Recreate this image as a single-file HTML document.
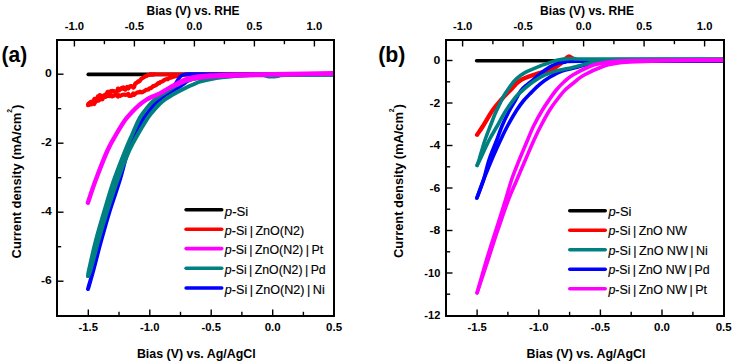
<!DOCTYPE html>
<html><head><meta charset="utf-8"><style>
html,body{margin:0;padding:0;background:#fff;width:734px;height:362px;overflow:hidden}
svg{display:block}
text{font-family:"Liberation Sans", sans-serif;fill:#000}
</style></head><body>
<svg width="734" height="362" viewBox="0 0 734 362">
<defs>
<clipPath id="ca"><rect x="58" y="41" width="275" height="274"/></clipPath>
<clipPath id="cb"><rect x="447" y="41" width="276" height="274"/></clipPath>
</defs>
<path d="M88.2,74.4 C129.0,74.4 292.2,74.4 333.0,74.4" fill="none" stroke="#000000" stroke-width="3.6" stroke-linecap="round" stroke-linejoin="round" clip-path="url(#ca)"/>
<path d="M150.0,74.4 C180.5,74.4 302.5,74.4 333.0,74.4" fill="none" stroke="#ff0000" stroke-width="3.6" stroke-linecap="round" stroke-linejoin="round" clip-path="url(#ca)"/>
<path d="M87.9,105.2 L88.5,104.9 L89.5,102.8 L89.8,104.2 L90.9,101.7 L92.6,101.5 L93.5,100.6 L94.5,98.8 L95.7,100.0 L96.6,99.1 L97.8,96.5 L99.0,97.4 L99.8,95.2 L101.5,95.8 L102.5,96.3 L103.8,95.8 L104.7,94.9 L106.0,94.7 L107.5,91.9 L108.1,91.7 L110.0,91.9 L110.9,91.1 L112.1,90.9 L113.1,91.0 L114.5,91.5 L115.8,91.3 L117.1,91.1 L118.0,88.5 L119.1,90.5 L120.6,89.1 L121.7,87.9 L123.0,88.8 L123.6,87.3 L125.2,89.7 L125.7,89.0 L127.1,87.0 L128.3,88.5 L130.0,86.2 L131.0,86.0 L132.2,86.5 L133.3,87.7 L134.2,86.9 L135.1,83.8 L136.2,82.8 L136.8,82.8 L138.1,81.3 L138.7,81.7 L139.9,80.9 L141.1,79.0 L141.9,78.5 L143.0,77.8 L144.0,77.2 L145.4,76.3 L146.5,76.0 L147.9,75.0 L149.3,75.0 L150.6,74.3 L151.9,74.7 L153.0,74.6 L154.0,74.4" fill="none" stroke="#ff0000" stroke-width="4.1" stroke-linecap="round" stroke-linejoin="round" clip-path="url(#ca)"/>
<path d="M88.2,103.9 L89.0,104.7 L90.0,104.0 L91.3,104.5 L92.1,102.1 L94.2,104.0 L95.4,101.9 L96.7,101.0 L97.5,100.5 L98.7,100.7 L99.8,99.5 L101.4,98.0 L102.4,99.4 L103.4,97.4 L105.1,96.9 L105.8,97.0 L107.4,95.7 L108.4,96.0 L110.1,96.1 L111.5,95.2 L112.4,96.4 L114.1,95.7 L114.9,94.8 L116.4,94.9 L117.9,96.6 L118.5,95.0 L120.5,95.9 L122.0,94.9 L122.8,94.7 L124.7,94.5 L125.5,94.9 L126.8,94.8 L128.4,93.9 L129.0,96.0 L130.9,95.9 L131.7,95.6 L133.2,93.5 L134.2,94.8 L135.3,93.8 L136.3,93.1 L137.4,92.3 L138.9,92.4 L140.2,91.6 L141.4,92.4 L142.6,92.3 L143.8,91.3 L144.6,91.1 L145.9,89.9 L147.3,89.7 L148.4,89.5 L149.6,88.2 L150.7,88.1 L152.0,87.4 L153.1,86.1 L154.3,86.0 L155.4,85.3 L156.8,84.6 L158.1,83.1 L159.2,83.3 L160.3,82.1 L161.6,81.8 L162.9,81.1 L164.2,80.0 L165.2,79.6 L166.4,79.0 L167.8,79.3 L168.7,78.4 L169.8,77.8 L171.0,77.7 L172.2,77.1 L173.3,76.7 L174.4,76.6 L175.8,76.2 L176.7,75.7 L178.0,75.8 L179.4,75.2 L180.6,75.2 L181.8,74.7 L183.1,74.9 L184.5,74.8 L185.9,74.2 L187.1,74.6 L188.0,74.4" fill="none" stroke="#ff0000" stroke-width="4.1" stroke-linecap="round" stroke-linejoin="round" clip-path="url(#ca)"/>
<path d="M156.0,105.0 C157.3,103.3 161.7,97.6 164.0,95.0 C166.3,92.4 168.2,91.2 170.0,89.5 C171.8,87.8 173.3,86.4 174.5,85.0 C175.7,83.6 176.4,82.2 177.2,81.0 C178.0,79.8 178.6,78.5 179.5,77.5 C180.4,76.5 181.1,75.8 182.5,75.2 C183.9,74.6 185.1,74.3 188.0,74.1 C190.9,73.9 191.3,74.0 200.0,74.0 C208.7,74.0 217.8,74.2 240.0,74.3 C262.2,74.3 317.5,74.3 333.0,74.3" fill="none" stroke="#0000ff" stroke-width="3.6" stroke-linecap="round" stroke-linejoin="round" clip-path="url(#ca)"/>
<path d="M88.0,289.0 C88.9,285.8 91.2,278.2 93.4,270.0 C95.6,261.8 98.5,250.0 101.3,240.0 C104.1,230.0 106.9,220.0 110.0,210.0 C113.1,200.0 116.8,190.0 119.8,180.0 C122.8,170.0 125.6,157.5 128.1,150.0 C130.6,142.5 132.6,140.0 135.0,135.0 C137.4,130.0 140.3,123.8 142.5,120.0 C144.7,116.2 146.1,115.0 148.0,112.5 C149.9,110.0 152.1,107.1 153.9,105.0 C155.7,102.9 157.2,101.7 159.0,100.0 C160.8,98.3 162.9,96.5 165.0,95.0 C167.1,93.5 169.3,92.6 171.5,91.3 C173.7,90.0 176.5,88.6 178.4,87.4 C180.3,86.2 181.4,85.3 183.0,84.2 C184.6,83.1 186.0,81.8 188.0,80.8 C190.0,79.8 192.2,79.1 195.0,78.4 C197.8,77.7 200.8,77.2 205.0,76.8 C209.2,76.4 214.2,76.1 220.0,75.8 C225.8,75.5 230.0,75.4 240.0,75.2 C250.0,75.0 264.5,74.6 280.0,74.4 C295.5,74.2 324.2,74.2 333.0,74.2" fill="none" stroke="#0000ff" stroke-width="4.0" stroke-linecap="round" stroke-linejoin="round" clip-path="url(#ca)"/>
<path d="M88.0,276.0 C88.2,275.0 87.7,276.0 89.0,270.0 C90.3,264.0 93.4,250.0 96.0,240.0 C98.6,230.0 101.6,220.0 104.6,210.0 C107.6,200.0 110.5,190.0 114.0,180.0 C117.5,170.0 122.5,157.5 125.5,150.0 C128.5,142.5 129.8,140.0 132.0,135.0 C134.2,130.0 136.8,123.8 138.7,120.0 C140.6,116.2 141.7,115.0 143.5,112.5 C145.3,110.0 147.5,107.2 149.4,105.0 C151.3,102.8 153.1,101.1 155.0,99.5 C156.9,97.9 159.2,96.5 161.0,95.2 C162.8,94.0 164.4,93.0 166.0,92.0 C167.6,91.0 168.8,90.2 170.5,89.1 C172.2,88.0 173.9,86.8 176.0,85.6 C178.1,84.4 180.7,83.0 183.0,82.0 C185.3,81.0 187.2,80.3 190.0,79.6 C192.8,78.9 196.3,78.2 200.0,77.7 C203.7,77.2 207.0,76.9 212.0,76.5 C217.0,76.1 223.7,75.7 230.0,75.4 C236.3,75.1 232.8,75.1 250.0,74.9 C267.2,74.7 319.2,74.5 333.0,74.4" fill="none" stroke="#008080" stroke-width="4.0" stroke-linecap="round" stroke-linejoin="round" clip-path="url(#ca)"/>
<path d="M88.0,276.0 C88.4,275.0 88.8,276.0 90.5,270.0 C92.2,264.0 95.7,250.0 98.5,240.0 C101.3,230.0 104.3,220.0 107.5,210.0 C110.7,200.0 113.8,190.0 117.5,180.0 C121.2,170.0 126.2,157.5 129.5,150.0 C132.8,142.5 134.7,140.0 137.5,135.0 C140.3,130.0 144.1,123.8 146.5,120.0 C148.9,116.2 150.0,115.0 152.0,112.5 C154.0,110.0 156.4,107.2 158.6,105.0 C160.8,102.8 162.8,101.2 165.0,99.5 C167.2,97.8 169.5,96.5 172.0,95.0 C174.5,93.5 177.5,92.1 180.0,90.8 C182.5,89.5 184.7,88.3 187.0,87.2 C189.3,86.1 191.8,85.1 194.0,84.2 C196.2,83.3 197.3,82.5 200.0,81.7 C202.7,80.9 206.3,79.9 210.0,79.2 C213.7,78.5 217.8,77.8 222.0,77.3 C226.2,76.8 230.3,76.4 235.0,76.0 C239.7,75.6 245.3,75.2 250.0,75.1 C254.7,75.0 259.7,75.0 263.0,75.3 C266.3,75.5 267.5,76.5 270.0,76.6 C272.5,76.7 275.5,76.4 278.0,76.1 C280.5,75.8 275.8,75.3 285.0,75.0 C294.2,74.7 325.0,74.5 333.0,74.4" fill="none" stroke="#008080" stroke-width="4.0" stroke-linecap="round" stroke-linejoin="round" clip-path="url(#ca)"/>
<path d="M87.9,202.7 C89.2,198.9 92.4,188.8 95.7,180.0 C99.0,171.2 104.4,157.5 107.7,150.0 C111.0,142.5 112.9,140.0 115.8,135.0 C118.7,130.0 122.4,123.8 125.1,120.0 C127.8,116.2 129.7,114.5 132.0,112.0 C134.3,109.5 136.5,107.3 138.8,105.3 C141.1,103.3 143.8,101.4 146.0,100.0 C148.2,98.6 150.2,97.7 152.0,96.8 C153.8,95.9 155.2,95.7 157.0,94.8 C158.8,93.9 161.0,92.7 163.0,91.6 C165.0,90.5 167.1,89.2 169.0,88.1 C170.9,87.0 172.7,86.0 174.5,85.0 C176.3,84.0 177.8,83.0 180.0,82.0 C182.2,81.0 185.0,79.6 188.0,78.7 C191.0,77.8 194.3,77.0 198.0,76.5 C201.7,76.0 205.5,75.8 210.0,75.5 C214.5,75.2 219.2,75.2 225.0,75.0 C230.8,74.8 234.2,74.8 245.0,74.6 C255.8,74.4 275.3,74.2 290.0,74.0 C304.7,73.8 325.8,73.3 333.0,73.2" fill="none" stroke="#ff00ff" stroke-width="4.4" stroke-linecap="round" stroke-linejoin="round" clip-path="url(#ca)"/>
<path d="M171.8,86.8 C173.2,86.2 177.3,84.6 180.0,83.5 C182.7,82.4 185.0,81.3 188.0,80.4 C191.0,79.5 194.3,78.9 198.0,78.3 C201.7,77.7 205.5,77.3 210.0,77.0 C214.5,76.7 219.2,76.4 225.0,76.2 C230.8,76.0 234.2,76.0 245.0,75.7 C255.8,75.5 275.3,75.0 290.0,74.7 C304.7,74.4 325.8,74.0 333.0,73.9" fill="none" stroke="#ff00ff" stroke-width="3.6" stroke-linecap="round" stroke-linejoin="round" clip-path="url(#ca)"/>
<path d="M476.6,60.8 C517.7,60.8 681.9,60.8 723.0,60.8" fill="none" stroke="#000000" stroke-width="3.6" stroke-linecap="round" stroke-linejoin="round" clip-path="url(#cb)"/>
<path d="M477.1,134.8 C478.1,133.3 480.4,130.1 483.0,126.0 C485.6,121.9 489.8,114.3 492.8,110.0 C495.8,105.7 498.1,103.3 501.0,100.0 C503.9,96.7 507.3,93.2 510.5,90.0 C513.7,86.8 515.9,83.2 520.0,80.6 C524.1,78.0 531.2,75.8 535.0,74.4 C538.8,73.0 540.5,72.8 543.0,72.0 C545.5,71.2 547.8,70.7 550.0,69.8 C552.2,68.9 554.2,67.9 556.0,66.8 C557.8,65.7 559.6,64.6 561.0,63.4 C562.4,62.2 563.2,61.0 564.5,59.8 C565.8,58.6 567.5,56.5 568.8,56.3 C570.1,56.0 571.1,57.7 572.5,58.3 C573.9,58.9 574.1,59.6 577.0,60.0 C579.9,60.4 565.7,60.4 590.0,60.4 C614.3,60.4 700.8,60.3 723.0,60.3" fill="none" stroke="#ff0000" stroke-width="4.3" stroke-linecap="round" stroke-linejoin="round" clip-path="url(#cb)"/>
<path d="M476.9,198.0 C478.0,195.0 481.1,186.3 483.5,180.0 C485.9,173.7 488.8,166.7 491.6,160.0 C494.5,153.3 498.0,145.7 500.6,140.0 C503.2,134.3 504.8,131.0 507.5,126.0 C510.2,121.0 514.1,114.2 516.8,110.0 C519.5,105.8 521.5,103.2 523.7,100.5 C525.9,97.8 527.3,96.5 530.0,93.8 C532.7,91.1 536.7,87.0 540.0,84.2 C543.3,81.4 546.3,79.2 550.0,77.0 C553.7,74.8 557.8,72.5 562.0,71.0 C566.2,69.5 570.3,69.0 575.0,67.8 C579.7,66.6 584.2,64.9 590.0,63.8 C595.8,62.7 587.8,61.8 610.0,61.3 C632.2,60.8 704.2,60.6 723.0,60.5" fill="none" stroke="#0000ff" stroke-width="3.6" stroke-linecap="round" stroke-linejoin="round" clip-path="url(#cb)"/>
<path d="M476.9,198.0 C478.0,195.0 481.5,186.3 483.5,180.0 C485.5,173.7 486.8,166.7 489.0,160.0 C491.2,153.3 494.6,145.7 496.8,140.0 C499.0,134.3 499.9,131.0 502.0,126.0 C504.1,121.0 507.4,114.3 509.7,110.0 C511.9,105.7 513.7,103.2 515.5,100.0 C517.3,96.8 518.9,93.4 520.6,91.0 C522.4,88.6 524.4,86.9 526.0,85.5 C527.6,84.1 527.7,84.3 530.0,82.4 C532.3,80.5 536.7,76.5 540.0,73.9 C543.3,71.3 547.2,68.6 550.0,66.9 C552.8,65.2 554.5,64.4 557.0,63.6 C559.5,62.8 561.2,62.5 565.0,62.1 C568.8,61.7 553.7,61.5 580.0,61.3 C606.3,61.1 699.2,60.9 723.0,60.8" fill="none" stroke="#0000ff" stroke-width="3.6" stroke-linecap="round" stroke-linejoin="round" clip-path="url(#cb)"/>
<path d="M477.1,165.4 C477.4,164.5 477.7,164.2 479.0,160.0 C480.3,155.8 483.1,145.7 485.0,140.0 C486.9,134.3 488.6,130.3 490.3,126.0 C492.0,121.7 493.4,117.8 495.0,114.0 C496.6,110.2 498.5,106.6 500.0,103.5 C501.5,100.4 502.6,97.9 504.0,95.5 C505.4,93.1 506.9,91.0 508.3,89.0 C509.7,87.0 511.1,84.9 512.5,83.2 C513.9,81.5 514.5,80.4 516.6,78.6 C518.7,76.8 522.1,74.2 524.9,72.6 C527.7,71.0 530.4,70.1 533.2,68.9 C536.0,67.7 538.7,66.5 541.5,65.5 C544.3,64.5 547.0,63.5 549.8,62.6 C552.5,61.7 555.2,60.7 558.0,60.1 C560.8,59.5 563.5,59.1 566.3,58.9 C569.1,58.7 571.0,58.8 575.0,58.8 C579.0,58.8 565.3,59.1 590.0,59.1 C614.7,59.1 700.8,59.0 723.0,59.0" fill="none" stroke="#008080" stroke-width="3.6" stroke-linecap="round" stroke-linejoin="round" clip-path="url(#cb)"/>
<path d="M477.1,165.4 C477.6,164.5 477.8,164.2 479.8,160.0 C481.8,155.8 486.3,145.7 489.2,140.0 C492.1,134.3 494.9,130.1 497.2,126.0 C499.5,121.9 501.1,118.7 503.0,115.5 C504.9,112.3 506.0,110.2 508.3,107.0 C510.6,103.8 513.8,99.1 516.6,96.0 C519.4,92.9 522.1,90.8 524.9,88.4 C527.7,86.0 530.4,83.8 533.2,81.8 C536.0,79.8 538.7,78.0 541.5,76.6 C544.3,75.1 547.0,74.1 549.8,73.1 C552.5,72.1 555.2,71.2 558.0,70.5 C560.8,69.8 563.5,69.4 566.3,68.8 C569.1,68.2 571.8,67.8 574.6,67.1 C577.4,66.4 580.1,65.6 582.9,64.8 C585.7,64.0 587.5,63.1 591.2,62.4 C594.9,61.7 600.2,61.0 605.0,60.5 C609.8,60.0 600.3,59.8 620.0,59.6 C639.7,59.4 705.8,59.3 723.0,59.2" fill="none" stroke="#008080" stroke-width="3.6" stroke-linecap="round" stroke-linejoin="round" clip-path="url(#cb)"/>
<path d="M477.1,292.8 C478.7,287.3 483.4,270.5 486.5,260.0 C489.6,249.5 492.8,240.0 496.0,230.0 C499.2,220.0 502.9,208.3 505.5,200.0 C508.1,191.7 509.2,186.7 511.5,180.0 C513.8,173.3 516.5,166.7 519.2,160.0 C521.9,153.3 525.2,145.7 527.6,140.0 C530.0,134.3 531.1,131.0 533.6,126.0 C536.1,121.0 539.8,114.3 542.4,110.0 C545.0,105.7 546.7,103.3 549.0,100.0 C551.3,96.7 553.8,93.0 556.3,90.0 C558.8,87.0 561.1,84.5 563.9,82.0 C566.6,79.5 568.3,77.7 572.8,75.0 C577.3,72.3 586.2,67.9 590.7,66.0 C595.2,64.1 596.5,64.2 600.0,63.5 C603.5,62.8 607.0,62.1 612.0,61.6 C617.0,61.1 611.5,60.8 630.0,60.5 C648.5,60.2 707.5,59.8 723.0,59.6" fill="none" stroke="#ff00ff" stroke-width="3.6" stroke-linecap="round" stroke-linejoin="round" clip-path="url(#cb)"/>
<path d="M477.1,292.8 C478.9,287.3 484.6,270.5 488.0,260.0 C491.4,249.5 494.4,240.0 497.8,230.0 C501.2,220.0 505.1,208.3 508.3,200.0 C511.5,191.7 514.0,186.7 516.8,180.0 C519.6,173.3 522.4,166.7 525.3,160.0 C528.2,153.3 531.4,145.7 534.0,140.0 C536.6,134.3 538.2,131.0 540.8,126.0 C543.4,121.0 547.0,114.3 549.7,110.0 C552.4,105.7 554.2,103.3 556.8,100.0 C559.4,96.7 562.1,93.0 565.1,90.0 C568.1,87.0 571.5,84.5 574.7,82.0 C577.9,79.5 579.3,77.7 584.2,75.0 C589.1,72.3 598.9,67.9 604.0,66.0 C609.1,64.1 610.7,64.2 615.0,63.5 C619.3,62.8 622.5,62.4 630.0,62.0 C637.5,61.6 644.5,61.3 660.0,61.0 C675.5,60.7 712.5,60.3 723.0,60.2" fill="none" stroke="#ff00ff" stroke-width="3.6" stroke-linecap="round" stroke-linejoin="round" clip-path="url(#cb)"/>
<rect x="57.0" y="40.0" width="277.0" height="276.0" fill="none" stroke="#000" stroke-width="2"/>
<line x1="88.3" y1="309.5" x2="88.3" y2="315.0" stroke="#000" stroke-width="1.4"/>
<line x1="149.8" y1="309.5" x2="149.8" y2="315.0" stroke="#000" stroke-width="1.4"/>
<line x1="211.2" y1="309.5" x2="211.2" y2="315.0" stroke="#000" stroke-width="1.4"/>
<line x1="272.7" y1="309.5" x2="272.7" y2="315.0" stroke="#000" stroke-width="1.4"/>
<line x1="119.0" y1="311.8" x2="119.0" y2="315.0" stroke="#000" stroke-width="1.4"/>
<line x1="180.5" y1="311.8" x2="180.5" y2="315.0" stroke="#000" stroke-width="1.4"/>
<line x1="241.9" y1="311.8" x2="241.9" y2="315.0" stroke="#000" stroke-width="1.4"/>
<line x1="303.4" y1="311.8" x2="303.4" y2="315.0" stroke="#000" stroke-width="1.4"/>
<text x="88.3" y="330.6" font-size="10.20" font-weight="bold" text-anchor="middle" textLength="19.4" lengthAdjust="spacingAndGlyphs" >-1.5</text>
<text x="149.8" y="330.6" font-size="10.20" font-weight="bold" text-anchor="middle" textLength="19.4" lengthAdjust="spacingAndGlyphs" >-1.0</text>
<text x="211.2" y="330.6" font-size="10.20" font-weight="bold" text-anchor="middle" textLength="19.4" lengthAdjust="spacingAndGlyphs" >-0.5</text>
<text x="272.7" y="330.6" font-size="10.20" font-weight="bold" text-anchor="middle" textLength="16.0" lengthAdjust="spacingAndGlyphs" >0.0</text>
<text x="334.1" y="330.6" font-size="10.20" font-weight="bold" text-anchor="middle" textLength="16.0" lengthAdjust="spacingAndGlyphs" >0.5</text>
<line x1="74.4" y1="41.0" x2="74.4" y2="46.5" stroke="#000" stroke-width="1.4"/>
<line x1="134.4" y1="41.0" x2="134.4" y2="46.5" stroke="#000" stroke-width="1.4"/>
<line x1="194.4" y1="41.0" x2="194.4" y2="46.5" stroke="#000" stroke-width="1.4"/>
<line x1="254.4" y1="41.0" x2="254.4" y2="46.5" stroke="#000" stroke-width="1.4"/>
<line x1="314.4" y1="41.0" x2="314.4" y2="46.5" stroke="#000" stroke-width="1.4"/>
<line x1="104.4" y1="41.0" x2="104.4" y2="44.2" stroke="#000" stroke-width="1.4"/>
<line x1="164.4" y1="41.0" x2="164.4" y2="44.2" stroke="#000" stroke-width="1.4"/>
<line x1="224.4" y1="41.0" x2="224.4" y2="44.2" stroke="#000" stroke-width="1.4"/>
<line x1="284.4" y1="41.0" x2="284.4" y2="44.2" stroke="#000" stroke-width="1.4"/>
<text x="74.4" y="29.7" font-size="10.20" font-weight="bold" text-anchor="middle" textLength="19.4" lengthAdjust="spacingAndGlyphs" >-1.0</text>
<text x="134.4" y="29.7" font-size="10.20" font-weight="bold" text-anchor="middle" textLength="19.4" lengthAdjust="spacingAndGlyphs" >-0.5</text>
<text x="194.4" y="29.7" font-size="10.20" font-weight="bold" text-anchor="middle" textLength="15.6" lengthAdjust="spacingAndGlyphs" >0.0</text>
<text x="254.4" y="29.7" font-size="10.20" font-weight="bold" text-anchor="middle" textLength="15.6" lengthAdjust="spacingAndGlyphs" >0.5</text>
<text x="314.4" y="29.7" font-size="10.20" font-weight="bold" text-anchor="middle" textLength="15.6" lengthAdjust="spacingAndGlyphs" >1.0</text>
<line x1="58.0" y1="74.2" x2="63.5" y2="74.2" stroke="#000" stroke-width="1.4"/>
<line x1="58.0" y1="143.2" x2="63.5" y2="143.2" stroke="#000" stroke-width="1.4"/>
<line x1="58.0" y1="212.2" x2="63.5" y2="212.2" stroke="#000" stroke-width="1.4"/>
<line x1="58.0" y1="281.2" x2="63.5" y2="281.2" stroke="#000" stroke-width="1.4"/>
<line x1="58.0" y1="108.7" x2="61.2" y2="108.7" stroke="#000" stroke-width="1.4"/>
<line x1="58.0" y1="177.7" x2="61.2" y2="177.7" stroke="#000" stroke-width="1.4"/>
<line x1="58.0" y1="246.7" x2="61.2" y2="246.7" stroke="#000" stroke-width="1.4"/>
<text x="51.8" y="76.9" font-size="10.20" font-weight="bold" text-anchor="end" textLength="6.8" lengthAdjust="spacingAndGlyphs" >0</text>
<text x="51.8" y="145.9" font-size="10.20" font-weight="bold" text-anchor="end" textLength="10.8" lengthAdjust="spacingAndGlyphs" >-2</text>
<text x="51.8" y="214.9" font-size="10.20" font-weight="bold" text-anchor="end" textLength="10.8" lengthAdjust="spacingAndGlyphs" >-4</text>
<text x="51.8" y="283.9" font-size="10.20" font-weight="bold" text-anchor="end" textLength="10.8" lengthAdjust="spacingAndGlyphs" >-6</text>
<rect x="446.0" y="40.0" width="278.0" height="276.0" fill="none" stroke="#000" stroke-width="2"/>
<line x1="477.1" y1="309.5" x2="477.1" y2="315.0" stroke="#000" stroke-width="1.4"/>
<line x1="538.8" y1="309.5" x2="538.8" y2="315.0" stroke="#000" stroke-width="1.4"/>
<line x1="600.4" y1="309.5" x2="600.4" y2="315.0" stroke="#000" stroke-width="1.4"/>
<line x1="662.0" y1="309.5" x2="662.0" y2="315.0" stroke="#000" stroke-width="1.4"/>
<line x1="507.9" y1="311.8" x2="507.9" y2="315.0" stroke="#000" stroke-width="1.4"/>
<line x1="569.6" y1="311.8" x2="569.6" y2="315.0" stroke="#000" stroke-width="1.4"/>
<line x1="631.2" y1="311.8" x2="631.2" y2="315.0" stroke="#000" stroke-width="1.4"/>
<line x1="692.9" y1="311.8" x2="692.9" y2="315.0" stroke="#000" stroke-width="1.4"/>
<text x="477.1" y="330.6" font-size="10.20" font-weight="bold" text-anchor="middle" textLength="19.4" lengthAdjust="spacingAndGlyphs" >-1.5</text>
<text x="538.8" y="330.6" font-size="10.20" font-weight="bold" text-anchor="middle" textLength="19.4" lengthAdjust="spacingAndGlyphs" >-1.0</text>
<text x="600.4" y="330.6" font-size="10.20" font-weight="bold" text-anchor="middle" textLength="19.4" lengthAdjust="spacingAndGlyphs" >-0.5</text>
<text x="662.0" y="330.6" font-size="10.20" font-weight="bold" text-anchor="middle" textLength="16.0" lengthAdjust="spacingAndGlyphs" >0.0</text>
<text x="723.7" y="330.6" font-size="10.20" font-weight="bold" text-anchor="middle" textLength="16.0" lengthAdjust="spacingAndGlyphs" >0.5</text>
<line x1="462.6" y1="41.0" x2="462.6" y2="46.5" stroke="#000" stroke-width="1.4"/>
<line x1="523.1" y1="41.0" x2="523.1" y2="46.5" stroke="#000" stroke-width="1.4"/>
<line x1="583.6" y1="41.0" x2="583.6" y2="46.5" stroke="#000" stroke-width="1.4"/>
<line x1="644.1" y1="41.0" x2="644.1" y2="46.5" stroke="#000" stroke-width="1.4"/>
<line x1="704.6" y1="41.0" x2="704.6" y2="46.5" stroke="#000" stroke-width="1.4"/>
<line x1="492.9" y1="41.0" x2="492.9" y2="44.2" stroke="#000" stroke-width="1.4"/>
<line x1="553.4" y1="41.0" x2="553.4" y2="44.2" stroke="#000" stroke-width="1.4"/>
<line x1="613.9" y1="41.0" x2="613.9" y2="44.2" stroke="#000" stroke-width="1.4"/>
<line x1="674.4" y1="41.0" x2="674.4" y2="44.2" stroke="#000" stroke-width="1.4"/>
<text x="462.6" y="29.7" font-size="10.20" font-weight="bold" text-anchor="middle" textLength="19.4" lengthAdjust="spacingAndGlyphs" >-1.0</text>
<text x="523.1" y="29.7" font-size="10.20" font-weight="bold" text-anchor="middle" textLength="19.4" lengthAdjust="spacingAndGlyphs" >-0.5</text>
<text x="583.6" y="29.7" font-size="10.20" font-weight="bold" text-anchor="middle" textLength="15.6" lengthAdjust="spacingAndGlyphs" >0.0</text>
<text x="644.1" y="29.7" font-size="10.20" font-weight="bold" text-anchor="middle" textLength="15.6" lengthAdjust="spacingAndGlyphs" >0.5</text>
<text x="704.6" y="29.7" font-size="10.20" font-weight="bold" text-anchor="middle" textLength="15.6" lengthAdjust="spacingAndGlyphs" >1.0</text>
<line x1="447.0" y1="60.5" x2="452.5" y2="60.5" stroke="#000" stroke-width="1.4"/>
<line x1="447.0" y1="103.0" x2="452.5" y2="103.0" stroke="#000" stroke-width="1.4"/>
<line x1="447.0" y1="145.5" x2="452.5" y2="145.5" stroke="#000" stroke-width="1.4"/>
<line x1="447.0" y1="188.0" x2="452.5" y2="188.0" stroke="#000" stroke-width="1.4"/>
<line x1="447.0" y1="230.5" x2="452.5" y2="230.5" stroke="#000" stroke-width="1.4"/>
<line x1="447.0" y1="273.0" x2="452.5" y2="273.0" stroke="#000" stroke-width="1.4"/>
<line x1="447.0" y1="81.8" x2="450.2" y2="81.8" stroke="#000" stroke-width="1.4"/>
<line x1="447.0" y1="124.2" x2="450.2" y2="124.2" stroke="#000" stroke-width="1.4"/>
<line x1="447.0" y1="166.8" x2="450.2" y2="166.8" stroke="#000" stroke-width="1.4"/>
<line x1="447.0" y1="209.2" x2="450.2" y2="209.2" stroke="#000" stroke-width="1.4"/>
<line x1="447.0" y1="251.8" x2="450.2" y2="251.8" stroke="#000" stroke-width="1.4"/>
<line x1="447.0" y1="294.2" x2="450.2" y2="294.2" stroke="#000" stroke-width="1.4"/>
<text x="440.3" y="64.4" font-size="10.20" font-weight="bold" text-anchor="end" textLength="6.8" lengthAdjust="spacingAndGlyphs" >0</text>
<text x="440.3" y="106.9" font-size="10.20" font-weight="bold" text-anchor="end" textLength="10.8" lengthAdjust="spacingAndGlyphs" >-2</text>
<text x="440.3" y="149.4" font-size="10.20" font-weight="bold" text-anchor="end" textLength="10.8" lengthAdjust="spacingAndGlyphs" >-4</text>
<text x="440.3" y="191.9" font-size="10.20" font-weight="bold" text-anchor="end" textLength="10.8" lengthAdjust="spacingAndGlyphs" >-6</text>
<text x="440.3" y="234.4" font-size="10.20" font-weight="bold" text-anchor="end" textLength="10.8" lengthAdjust="spacingAndGlyphs" >-8</text>
<text x="440.3" y="276.9" font-size="10.20" font-weight="bold" text-anchor="end" textLength="16.0" lengthAdjust="spacingAndGlyphs" >-10</text>
<text x="440.3" y="319.4" font-size="10.20" font-weight="bold" text-anchor="end" textLength="16.0" lengthAdjust="spacingAndGlyphs" >-12</text>
<text x="146.6" y="14.9" font-size="13.40" font-weight="bold" text-anchor="start" textLength="92.9" lengthAdjust="spacingAndGlyphs" >Bias (V) vs. RHE</text>
<text x="540.1" y="14.9" font-size="13.40" font-weight="bold" text-anchor="start" textLength="93.9" lengthAdjust="spacingAndGlyphs" >Bias (V) vs. RHE</text>
<text x="136.9" y="357.7" font-size="13.40" font-weight="bold" text-anchor="start" textLength="118.8" lengthAdjust="spacingAndGlyphs" >Bias (V) vs. Ag/AgCl</text>
<text x="526.6" y="357.7" font-size="13.40" font-weight="bold" text-anchor="start" textLength="118.8" lengthAdjust="spacingAndGlyphs" >Bias (V) vs. Ag/AgCl</text>
<g transform="translate(20.8,258.4) rotate(-90)">
<text x="0" y="0" font-size="13.40" font-weight="bold" textLength="153.7" lengthAdjust="spacingAndGlyphs">Current density (mA/cm<tspan dy="-9" font-size="7">2</tspan><tspan dy="9">)</tspan></text>
</g>
<g transform="translate(403.3,258.0) rotate(-90)">
<text x="0" y="0" font-size="13.40" font-weight="bold" textLength="153.9" lengthAdjust="spacingAndGlyphs">Current density (mA/cm<tspan dy="-9" font-size="7">2</tspan><tspan dy="9">)</tspan></text>
</g>
<text x="1.6" y="62.0" font-size="21.50" font-weight="bold" text-anchor="start" textLength="25.6" lengthAdjust="spacingAndGlyphs" >(a)</text>
<text x="378.2" y="62.0" font-size="21.50" font-weight="bold" text-anchor="start" textLength="27.2" lengthAdjust="spacingAndGlyphs" >(b)</text>
<line x1="186.1" y1="209.8" x2="221.7" y2="209.8" stroke="#000000" stroke-width="3.6" stroke-linecap="round"/>
<text x="224.8" y="215.5" font-size="12.2" font-weight="normal" stroke="#000" stroke-width="0.15" textLength="23.5" lengthAdjust="spacingAndGlyphs"><tspan font-style="italic">p</tspan>-Si</text>
<line x1="186.1" y1="229.2" x2="221.7" y2="229.2" stroke="#ff0000" stroke-width="3.6" stroke-linecap="round"/>
<text x="224.8" y="234.9" font-size="12.2" font-weight="normal" stroke="#000" stroke-width="0.15" textLength="79.5" lengthAdjust="spacingAndGlyphs"><tspan font-style="italic">p</tspan>-Si&#8201;|&#8201;ZnO(N2)</text>
<line x1="186.1" y1="248.6" x2="221.7" y2="248.6" stroke="#ff00ff" stroke-width="3.6" stroke-linecap="round"/>
<text x="224.8" y="254.3" font-size="12.2" font-weight="normal" stroke="#000" stroke-width="0.15" textLength="98.3" lengthAdjust="spacingAndGlyphs"><tspan font-style="italic">p</tspan>-Si&#8201;|&#8201;ZnO(N2)&#8201;|&#8201;Pt</text>
<line x1="186.1" y1="268.2" x2="221.7" y2="268.2" stroke="#008080" stroke-width="3.6" stroke-linecap="round"/>
<text x="224.8" y="273.9" font-size="12.2" font-weight="normal" stroke="#000" stroke-width="0.15" textLength="100.9" lengthAdjust="spacingAndGlyphs"><tspan font-style="italic">p</tspan>-Si&#8201;|&#8201;ZnO(N2)&#8201;|&#8201;Pd</text>
<line x1="186.1" y1="288.0" x2="221.7" y2="288.0" stroke="#0000ff" stroke-width="3.6" stroke-linecap="round"/>
<text x="224.8" y="293.7" font-size="12.2" font-weight="normal" stroke="#000" stroke-width="0.15" textLength="99.9" lengthAdjust="spacingAndGlyphs"><tspan font-style="italic">p</tspan>-Si&#8201;|&#8201;ZnO(N2)&#8201;|&#8201;Ni</text>
<line x1="569.8" y1="210.8" x2="605.2" y2="210.8" stroke="#000000" stroke-width="3.6" stroke-linecap="round"/>
<text x="608.4" y="215.9" font-size="12.2" font-weight="normal" stroke="#000" stroke-width="0.15" textLength="23.0" lengthAdjust="spacingAndGlyphs"><tspan font-style="italic">p</tspan>-Si</text>
<line x1="569.8" y1="230.2" x2="605.2" y2="230.2" stroke="#ff0000" stroke-width="3.6" stroke-linecap="round"/>
<text x="608.4" y="235.3" font-size="12.2" font-weight="normal" stroke="#000" stroke-width="0.15" textLength="78.5" lengthAdjust="spacingAndGlyphs"><tspan font-style="italic">p</tspan>-Si&#8201;|&#8201;ZnO NW</text>
<line x1="569.8" y1="249.7" x2="605.2" y2="249.7" stroke="#008080" stroke-width="3.6" stroke-linecap="round"/>
<text x="608.4" y="254.8" font-size="12.2" font-weight="normal" stroke="#000" stroke-width="0.15" textLength="99.5" lengthAdjust="spacingAndGlyphs"><tspan font-style="italic">p</tspan>-Si&#8201;|&#8201;ZnO NW&#8201;|&#8201;Ni</text>
<line x1="569.8" y1="269.2" x2="605.2" y2="269.2" stroke="#0000ff" stroke-width="3.6" stroke-linecap="round"/>
<text x="608.4" y="274.3" font-size="12.2" font-weight="normal" stroke="#000" stroke-width="0.15" textLength="101.2" lengthAdjust="spacingAndGlyphs"><tspan font-style="italic">p</tspan>-Si&#8201;|&#8201;ZnO NW&#8201;|&#8201;Pd</text>
<line x1="569.8" y1="288.8" x2="605.2" y2="288.8" stroke="#ff00ff" stroke-width="3.6" stroke-linecap="round"/>
<text x="608.4" y="293.9" font-size="12.2" font-weight="normal" stroke="#000" stroke-width="0.15" textLength="98.5" lengthAdjust="spacingAndGlyphs"><tspan font-style="italic">p</tspan>-Si&#8201;|&#8201;ZnO NW&#8201;|&#8201;Pt</text>
</svg>
</body></html>
